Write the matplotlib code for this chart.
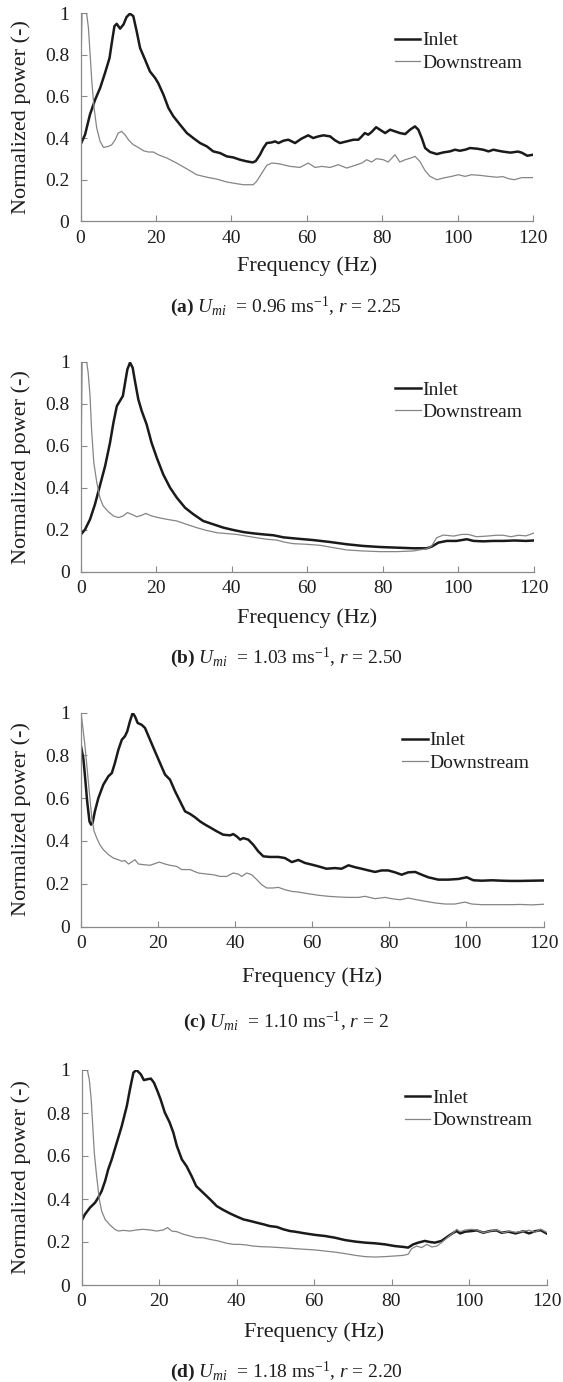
import matplotlib
matplotlib.use("Agg")
import matplotlib.pyplot as plt
from matplotlib.transforms import offset_copy

plt.rcParams['font.family'] = ['Liberation Serif', 'DejaVu Serif']
plt.rcParams['mathtext.fontset'] = 'custom'
plt.rcParams['mathtext.rm'] = 'Liberation Serif'
plt.rcParams['mathtext.it'] = 'Liberation Serif:italic'
plt.rcParams['mathtext.bf'] = 'Liberation Serif:bold'

# ---- data (frequency in Hz, normalized power) ----
# (a) U_mi = 0.96, r = 2.25
a_inlet_f = [0, 1.2, 2.5, 3.9, 5.2, 6.5, 7.7, 8.3, 9.0, 9.6, 10.5, 11.4, 12.2, 13.1, 14.0, 14.9, 15.8,
             17.1, 18.4, 19.8, 20.6, 22, 23.3, 24.6, 26.4, 28.2, 29.9, 31.7, 33.5, 35.2, 37, 38.8, 40.5,
             42.3, 44.1, 45.7, 46.5, 47.6, 48.5, 49.4, 50.7, 51.6, 52.5, 53.8, 55.1, 56.9, 58.6, 60.4,
             61.7, 63.1, 64.4, 66.2, 67.5, 68.8, 70.6, 72.4, 73.7, 74.6, 75.4, 76.3, 77.2, 78.4, 79.4,
             80.8, 82.1, 83.4, 84.7, 86.1, 87.4, 88.7, 89.6, 90.5, 91.4, 92.7, 94.5, 96.2, 98, 99.3,
             100.6, 102, 103.3, 105.1, 106.8, 108.2, 109.5, 110.8, 112, 114, 116, 117, 118.5, 120]
a_inlet_p = [0.368, 0.416, 0.512, 0.585, 0.64, 0.712, 0.784, 0.857, 0.937, 0.948, 0.925, 0.945, 0.98,
             0.997, 0.985, 0.912, 0.832, 0.777, 0.72, 0.688, 0.664, 0.608, 0.545, 0.505, 0.464, 0.424,
             0.4, 0.376, 0.36, 0.336, 0.328, 0.312, 0.307, 0.296, 0.288, 0.283, 0.29, 0.32, 0.352, 0.376,
             0.379, 0.384, 0.376, 0.387, 0.392, 0.376, 0.397, 0.413, 0.4, 0.408, 0.413, 0.408, 0.389,
             0.376, 0.384, 0.392, 0.392, 0.408, 0.424, 0.416, 0.429, 0.452, 0.44, 0.424, 0.44, 0.432,
             0.424, 0.419, 0.44, 0.456, 0.44, 0.4, 0.352, 0.333, 0.323, 0.331, 0.336, 0.344, 0.339,
             0.344, 0.352, 0.349, 0.344, 0.336, 0.344, 0.339, 0.335, 0.33, 0.335, 0.33, 0.315, 0.32]
a_down_f = [0, 0.4, 1.0, 1.6, 2.1, 2.5, 3.0, 3.6, 4.3, 5.2, 6.1, 7.4, 8.3, 9.2, 10.0, 10.9, 11.8, 12.7,
            14.0, 15.3, 16.7, 18, 19.3, 20.6, 22.9, 25.5, 28.2, 30.8, 33.5, 36.1, 38.8, 41.4, 43.2,
            45.8, 46.7, 48.1, 49.4, 50.7, 52.5, 55.6, 58.2, 60.4, 62.2, 64, 66.2, 68.4, 70.6, 72.8,
            74.6, 75.9, 77.2, 78.5, 80.3, 81.6, 83.4, 84.7, 86.1, 87.6, 88.7, 90, 91.4, 92.7, 94.5,
            96.2, 98.4, 100.2, 102, 103.7, 105.9, 108.2, 110.4, 112, 113.5, 115, 117, 119, 120]
a_down_p = [0.62, 1.0, 1.0, 1.0, 0.93, 0.816, 0.672, 0.544, 0.448, 0.384, 0.355, 0.36, 0.368, 0.392,
            0.424, 0.432, 0.416, 0.392, 0.368, 0.355, 0.339, 0.333, 0.333, 0.32, 0.304, 0.28, 0.252,
            0.224, 0.212, 0.203, 0.189, 0.181, 0.176, 0.176, 0.192, 0.232, 0.269, 0.28, 0.277, 0.264,
            0.259, 0.28, 0.259, 0.264, 0.259, 0.272, 0.256, 0.269, 0.28, 0.296, 0.285, 0.301, 0.296,
            0.285, 0.32, 0.285, 0.296, 0.304, 0.312, 0.288, 0.243, 0.216, 0.2, 0.208, 0.216, 0.224,
            0.216, 0.224, 0.221, 0.216, 0.212, 0.215, 0.205, 0.2, 0.21, 0.21, 0.21]

# (b) U_mi = 1.03, r = 2.50
b_inlet_f = [0, 1.1, 2.4, 3.7, 5.0, 6.4, 7.7, 8.6, 9.5, 10.3, 11.1, 11.7, 12.3, 13.0, 13.7, 14.3, 15.2,
             16.1, 17.4, 18.7, 20.1, 21.8, 23.6, 25.4, 27.6, 29.8, 32.4, 35.1, 37.8, 40.4, 43.1, 45.7,
             48.4, 51, 53.7, 57.2, 61.6, 66, 70.5, 74.9, 79.3, 83.7, 88.1, 91.7, 93, 94.8, 97, 99.6,
             102.3, 104.1, 106.7, 109.4, 112, 115, 118, 120]
b_inlet_p = [0.179, 0.203, 0.251, 0.322, 0.41, 0.505, 0.616, 0.711, 0.79, 0.814, 0.838, 0.902, 0.965,
             0.997, 0.973, 0.91, 0.822, 0.767, 0.703, 0.616, 0.544, 0.465, 0.402, 0.354, 0.306, 0.275,
             0.243, 0.227, 0.211, 0.2, 0.19, 0.184, 0.179, 0.175, 0.165, 0.159, 0.152, 0.143, 0.132,
             0.124, 0.119, 0.116, 0.113, 0.113, 0.121, 0.14, 0.148, 0.148, 0.156, 0.148, 0.146, 0.148,
             0.148, 0.15, 0.148, 0.15]
b_down_f = [0, 0.3, 1.1, 1.5, 1.9, 2.4, 2.8, 3.4, 4.2, 5.0, 5.9, 7.3, 8.6, 9.9, 11.2, 12.3, 13.4, 14.8,
            16.1, 17.2, 18.7, 20.5, 22.7, 25.4, 28, 30.7, 33.3, 36, 38.6, 41.3, 43.9, 46.6, 49.2, 51.9,
            54, 56.3, 59.8, 63.4, 66.9, 70.5, 74.9, 79.3, 83.7, 88.1, 91.7, 93, 94.3, 96.1, 98.8, 101,
            102.7, 104.9, 107.6, 110.2, 112, 114, 116, 118, 120]
b_down_p = [0.52, 1.0, 1.0, 1.0, 0.95, 0.838, 0.68, 0.52, 0.425, 0.354, 0.314, 0.286, 0.267, 0.259,
            0.267, 0.283, 0.275, 0.263, 0.27, 0.279, 0.267, 0.259, 0.251, 0.243, 0.227, 0.211, 0.198,
            0.187, 0.183, 0.179, 0.171, 0.163, 0.156, 0.152, 0.142, 0.135, 0.132, 0.127, 0.116, 0.105,
            0.1, 0.097, 0.097, 0.1, 0.111, 0.124, 0.163, 0.176, 0.171, 0.179, 0.179, 0.168, 0.171,
            0.175, 0.175, 0.168, 0.175, 0.172, 0.185]

# (c) U_mi = 1.10, r = 2
c_inlet_f = [0, 0.6, 1.0, 1.6, 2.2, 2.6, 3.0, 3.6, 4.5, 5.8, 7.1, 8.0, 8.8, 9.7, 10.6, 11.4, 12.0, 12.7,
             13.4, 14.0, 14.7, 15.7, 16.6, 17.9, 19.2, 20.5, 21.8, 23.1, 24.4, 25.7, 27.0, 28.3, 29.6,
             30.9, 32.2, 33.5, 35.2, 36.9, 38.7, 39.5, 40.4, 41.3, 42.1, 43.4, 44.7, 46, 47.3, 49,
             51.2, 52.9, 54.7, 56.4, 58.1, 59.9, 61.6, 63.7, 65.9, 67.6, 69.4, 71.1, 72.8, 74.6, 76.3,
             78, 79.7, 81.5, 83.2, 84.9, 86.7, 88.4, 90.1, 92.7, 95.3, 97.9, 100.1, 101.8, 104, 106.6,
             109.2, 111.3, 114, 117, 120]
c_inlet_p = [0.842, 0.787, 0.71, 0.585, 0.491, 0.476, 0.484, 0.538, 0.6, 0.663, 0.702, 0.717, 0.764,
             0.826, 0.873, 0.889, 0.912, 0.959, 0.998, 0.982, 0.951, 0.943, 0.928, 0.873, 0.818, 0.764,
             0.71, 0.686, 0.632, 0.585, 0.538, 0.526, 0.51, 0.491, 0.476, 0.463, 0.445, 0.429, 0.426,
             0.432, 0.421, 0.406, 0.413, 0.406, 0.382, 0.351, 0.328, 0.325, 0.325, 0.32, 0.301, 0.311,
             0.297, 0.289, 0.281, 0.27, 0.273, 0.27, 0.286, 0.277, 0.27, 0.262, 0.255, 0.262, 0.262,
             0.253, 0.242, 0.253, 0.255, 0.242, 0.23, 0.219, 0.219, 0.222, 0.23, 0.216, 0.214, 0.216,
             0.214, 0.213, 0.213, 0.214, 0.215]
c_down_f = [0, 1.0, 1.9, 2.8, 3.4, 4.1, 4.9, 5.8, 7.1, 8.4, 9.7, 10.6, 11.4, 12.3, 13.1, 14.0, 14.9, 16.2,
            17.9, 19.2, 20.3, 21.8, 23.1, 24.8, 26.1, 28.3, 30.4, 32.6, 34.3, 36.1, 37.8, 39.5, 40.8,
            41.7, 43, 44.3, 45.6, 46.9, 48.2, 49.9, 51.2, 52.9, 54.7, 56.4, 59, 61.6, 64.2, 66.8, 69.4,
            72, 73.7, 76.3, 78.9, 80.6, 82.8, 84.9, 87.1, 89.3, 91.9, 94.5, 97, 99.6, 101.4, 104,
            106.6, 109.2, 111.3, 114, 117, 120]
c_down_p = [1.0, 0.85, 0.678, 0.507, 0.445, 0.413, 0.382, 0.359, 0.336, 0.32, 0.312, 0.305, 0.308,
            0.292, 0.301, 0.312, 0.292, 0.289, 0.286, 0.294, 0.301, 0.292, 0.286, 0.281, 0.266, 0.266,
            0.25, 0.245, 0.242, 0.234, 0.234, 0.25, 0.245, 0.234, 0.25, 0.242, 0.219, 0.195, 0.18, 0.18,
            0.183, 0.172, 0.164, 0.161, 0.153, 0.146, 0.141, 0.138, 0.136, 0.136, 0.141, 0.13, 0.136,
            0.13, 0.125, 0.133, 0.125, 0.118, 0.11, 0.105, 0.105, 0.114, 0.105, 0.102, 0.102, 0.102,
            0.102, 0.103, 0.101, 0.104]

# (d) U_mi = 1.18, r = 2.20
d_inlet_f = [0, 0.9, 2.2, 3.5, 4.3, 5.2, 6.1, 6.9, 7.8, 9.1, 10.4, 11.7, 12.5, 13.4, 14.2, 15.3, 16.1,
             17.0, 17.9, 18.7, 19.6, 20.4, 21.5, 22.7, 23.7, 24.6, 25.9, 27.1, 28.4, 29.6, 31.4, 33.2,
             34.9, 36.6, 38.3, 40.1, 41.8, 43.5, 45.2, 47, 48.6, 50.4, 52.1, 53.8, 55.1, 57.7, 60.3,
             62.8, 65.4, 68, 70.6, 73.2, 75.7, 78.3, 80.9, 83.1, 84.3, 85.6, 86.9, 88.6, 89.9, 91.2,
             92.9, 94.7, 96, 96.8, 97.7, 99, 100.7, 102, 103.7, 105.4, 107.1, 108.4, 110.2, 112, 114,
             115.5, 117, 118.5, 120]
d_inlet_p = [0.298, 0.329, 0.36, 0.383, 0.406, 0.437, 0.484, 0.538, 0.584, 0.662, 0.74, 0.833, 0.91,
             0.988, 1.0, 0.98, 0.953, 0.957, 0.96, 0.941, 0.902, 0.864, 0.802, 0.758, 0.709, 0.647,
             0.584, 0.553, 0.507, 0.46, 0.429, 0.398, 0.367, 0.349, 0.333, 0.318, 0.305, 0.298, 0.29,
             0.282, 0.274, 0.27, 0.259, 0.251, 0.248, 0.24, 0.233, 0.228, 0.22, 0.209, 0.202, 0.197,
             0.194, 0.189, 0.181, 0.177, 0.174, 0.189, 0.197, 0.205, 0.2, 0.197, 0.205, 0.228, 0.243,
             0.251, 0.24, 0.248, 0.251, 0.254, 0.243, 0.251, 0.254, 0.243, 0.248, 0.24, 0.25, 0.24,
             0.25, 0.255, 0.24]
d_down_f = [0, 0.2, 0.9, 1.5, 2.0, 2.5, 2.9, 3.3, 3.9, 4.6, 5.2, 6.1, 7.4, 8.6, 9.5, 10.8, 12.5, 14.2,
            15.9, 17.7, 19.4, 21.1, 22.2, 23.3, 24.6, 26.3, 28, 29.7, 31.4, 33.2, 35.3, 37.5, 39.2,
            40.9, 42.6, 44.3, 46.5, 48.6, 51.2, 53.8, 55.1, 57.7, 60.3, 62.8, 65.4, 68, 70.6, 73.2,
            75.7, 78.3, 80.9, 83.1, 84.3, 85.2, 86.5, 87.8, 89.1, 90.4, 91.7, 92.9, 94.7, 96, 96.8,
            97.7, 99, 100.7, 102, 103.7, 105.4, 107.1, 108.9, 110.6, 112, 114, 115.5, 117, 118.5, 120]
d_down_p = [0.48, 1.0, 1.0, 1.0, 0.957, 0.864, 0.74, 0.616, 0.507, 0.398, 0.344, 0.305, 0.278, 0.259,
            0.251, 0.254, 0.251, 0.256, 0.259, 0.256, 0.251, 0.256, 0.267, 0.251, 0.248, 0.236, 0.228,
            0.22, 0.22, 0.212, 0.205, 0.194, 0.189, 0.189, 0.186, 0.181, 0.178, 0.177, 0.174, 0.171,
            0.169, 0.166, 0.163, 0.158, 0.153, 0.146, 0.138, 0.132, 0.13, 0.132, 0.135, 0.138, 0.143,
            0.169, 0.181, 0.174, 0.189, 0.177, 0.181, 0.197, 0.225, 0.243, 0.259, 0.248, 0.256, 0.259,
            0.256, 0.243, 0.251, 0.256, 0.243, 0.251, 0.245, 0.25, 0.255, 0.245, 0.26, 0.245]

captions = [r'$\mathbf{(a)}$ $U_{mi}$  = 0.96 ms$^{\mathrm{-1}}$, $r$ = 2.25',
            r'$\mathbf{(b)}$ $U_{mi}$  = 1.03 ms$^{\mathrm{-1}}$, $r$ = 2.50',
            r'$\mathbf{(c)}$ $U_{mi}$  = 1.10 ms$^{\mathrm{-1}}$, $r$ = 2',
            r'$\mathbf{(d)}$ $U_{mi}$  = 1.18 ms$^{\mathrm{-1}}$, $r$ = 2.20']

panels = [(a_inlet_f, a_inlet_p, a_down_f, a_down_p),
          (b_inlet_f, b_inlet_p, b_down_f, b_down_p),
          (c_inlet_f, c_inlet_p, c_down_f, c_down_p),
          (d_inlet_f, d_inlet_p, d_down_f, d_down_p)]

# axes boxes in pixels: left, right, top, bottom
W, H = 563, 1382
boxes = [(80.5, 533, 13, 221.4), (81, 533.5, 362, 572), (81, 543.5, 712.5, 926.5), (81.5, 546.5, 1070, 1285)]
xlab_off = [45, 46, 51, 47]
cap_off = [85, 86, 95, 87]
cap_x = 286  # caption centre, px

fig = plt.figure(figsize=(W / 100, H / 100), dpi=100)
spine_col = '#8a8a8a'
text_col = '#1e1e1e'

for i, (fi, pi, fd, pd) in enumerate(panels):
    l, r, t, b = boxes[i]
    ax = fig.add_axes([l / W, 1 - b / H, (r - l) / W, (b - t) / H])
    ax.plot(fi, pi, color='#1a1a1a', lw=1.8, label='Inlet')
    ax.plot(fd, pd, color='#858585', lw=0.9, label='Downstream')
    ax.set_xlim(0, 120)
    ax.set_ylim(0, 1)
    ax.set_xticks([0, 20, 40, 60, 80, 100, 120])
    ax.set_yticks([0, 0.2, 0.4, 0.6, 0.8, 1])
    ax.set_yticklabels(['0', '0.2', '0.4', '0.6', '0.8', '1'])
    for s in ['top', 'right']:
        ax.spines[s].set_visible(False)
    for s in ['left', 'bottom']:
        ax.spines[s].set_color(spine_col)
        ax.spines[s].set_linewidth(0.9)
    ax.tick_params(direction='in', length=4, width=0.8, color=spine_col,
                   labelsize=14, labelcolor=text_col)
    ax.tick_params(axis='y', pad=8)
    ax.tick_params(axis='x', pad=6)
    ax.legend(loc='upper left', bbox_to_anchor=(0.695, 0.91), frameon=False, fontsize=14,
              handlelength=1.3, handletextpad=0.1, borderpad=0, borderaxespad=0,
              labelspacing=0.25, labelcolor=text_col)

    ax.text(0.5, 0, 'Frequency (Hz)', fontsize=16, color=text_col, ha='center', va='center',
            transform=offset_copy(ax.transAxes, fig, y=-xlab_off[i], units='dots'))
    fig.text(cap_x / W, 1 - (b + cap_off[i]) / H, captions[i], fontsize=14, color=text_col,
             ha='center', va='center')
    fig.text(21 / W, 1 - (t + b) / 2 / H, 'Normalized power (-)', fontsize=16, color=text_col,
             rotation=90, ha='center', va='center')

fig.savefig('out.png', dpi=100)
